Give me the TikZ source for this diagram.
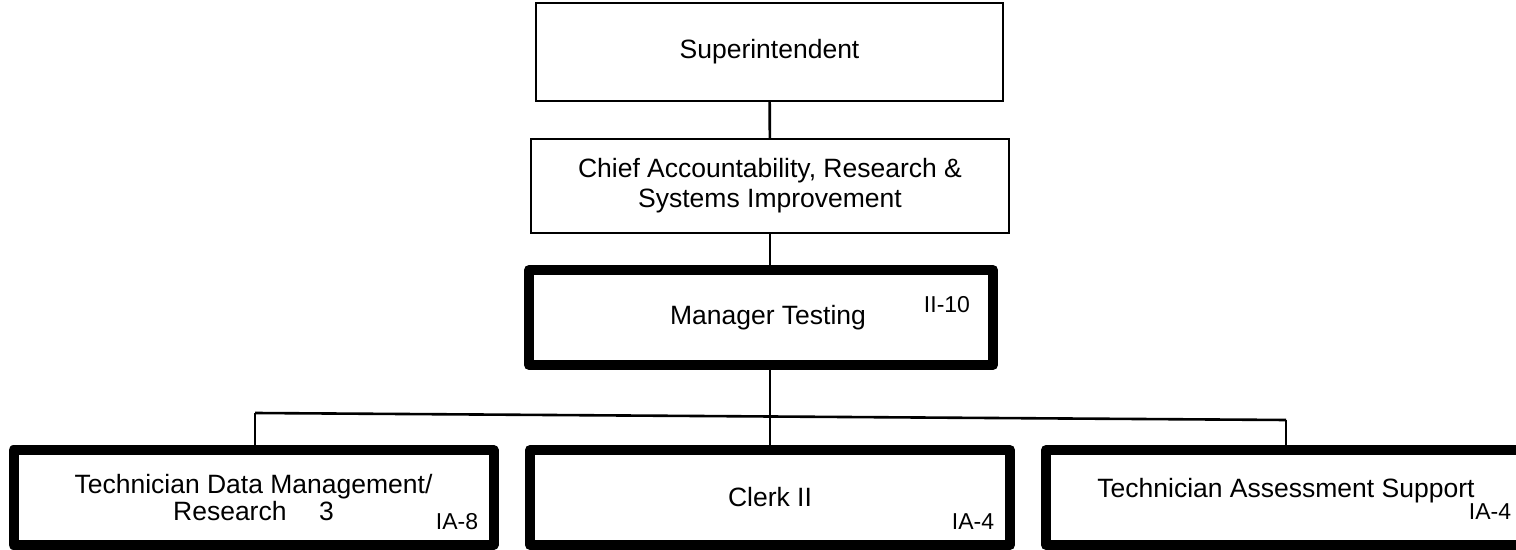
\documentclass[tikz,border=0pt]{standalone}
\usepackage{fontspec}
\setmainfont{Liberation Sans}
\begin{document}
\begin{tikzpicture}[x=0.5pt,y=-0.5pt,
        thinbox/.style={draw,line width=1.2pt,inner sep=0pt,align=center,
            font=\fontsize{13.25}{15}\selectfont},
        thickbox/.style={draw,line width=5pt,line join=round,inner sep=0pt,align=center,
            minimum width=240pt,minimum height=47.5pt,font=\fontsize{13.25}{13.5}\selectfont},
        grade/.style={inner sep=0pt,font=\fontsize{11.5}{13}\selectfont},
        link/.style={line width=1.3pt}]
        \useasboundingbox (0,0) rectangle (1516,550);
        % upper chain
        \node[thinbox,minimum width=233.5pt,minimum height=49pt] (sup) at (769.5,52) {Superintendent};
        \node[thinbox,minimum width=239pt,minimum height=47pt] (chief) at (770,186) {Chief Accountability, Research \&\\Systems Improvement};
        \node[thickbox,minimum width=232pt] (mgr) at (761,317.5) {\hspace*{7pt}Manager Testing};
        % staff
        \node[thickbox] (tdm) at (253.5,497.5) {Technician Data Management/\\Research\hspace{0.95em} 3};
        \node[thickbox] (clerk) at (770,497.5) {Clerk II};
        \node[thickbox,text depth=10pt] (tas) at (1286,497.5) {Technician Assessment Support};
        % grades
        \node[grade] (mgrg) at (947,305) {II-10};
        \node[grade] (tdmg) at (457,522) {IA-8};
        \node[grade] (clerkg) at (973,522) {IA-4};
        \node[grade] (tasg) at (1490,512) {IA-4};
        % lines
        \coordinate (busl) at (255,413);
        \coordinate (busr) at (1286,420);
        \draw[link] (sup) -- (chief);
        \draw[link] (chief.south) -- (chief.south |- mgr.north);
        \draw[link] (chief.south |- mgr.south) -- (chief.south |- clerk.north);
        \draw[link] (busl) -- (busr);
        \draw[link] (busl) -- (busl |- tdm.north);
        \draw[link] (busr) -- (busr |- tas.north);
    \end{tikzpicture}
\end{document}
